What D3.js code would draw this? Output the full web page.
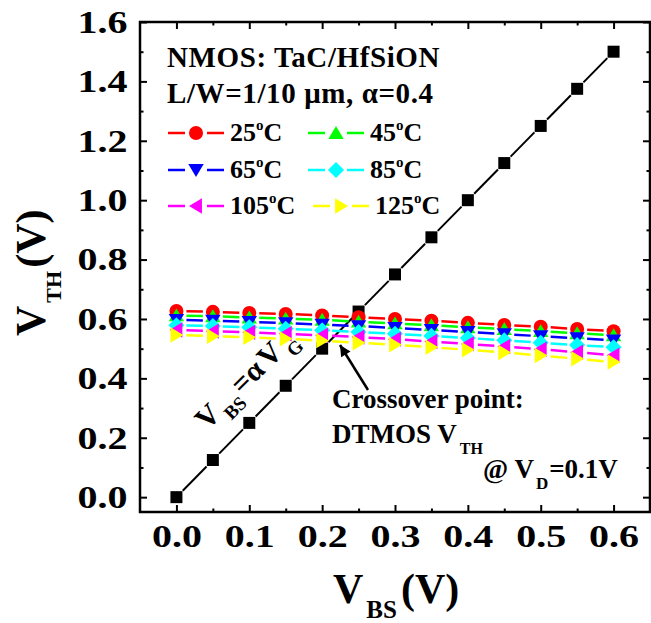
<!DOCTYPE html>
<html>
<head>
<meta charset="utf-8">
<script src="https://cdn.jsdelivr.net/npm/d3@7"></script>
<style>
  body { margin: 0; background: #fff; }
  svg text { font-family: "Liberation Serif", "Times New Roman", serif; font-weight: bold; fill: #000; }
</style>
</head>
<body>
<svg id="chart"></svg>
<script>
// ---- data ----
const vbs    = [0.00, 0.05, 0.10, 0.15, 0.20, 0.25, 0.30, 0.35, 0.40, 0.45, 0.50, 0.55, 0.60];
const vthDT  = [0.000, 0.125, 0.250, 0.375, 0.500, 0.625, 0.750, 0.875, 1.000, 1.125, 1.250, 1.375, 1.500]; // V_BS = alpha*V_G line
const vth25  = [0.627, 0.624, 0.620, 0.617, 0.612, 0.606, 0.600, 0.594, 0.587, 0.580, 0.574, 0.566, 0.559];
const vth45  = [0.612, 0.609, 0.605, 0.601, 0.597, 0.591, 0.585, 0.579, 0.572, 0.566, 0.559, 0.552, 0.545];
const vth65  = [0.597, 0.594, 0.590, 0.586, 0.581, 0.576, 0.570, 0.563, 0.556, 0.549, 0.542, 0.535, 0.528];
const vth85  = [0.579, 0.576, 0.572, 0.567, 0.562, 0.556, 0.550, 0.543, 0.536, 0.528, 0.520, 0.512, 0.505];
const vth105 = [0.563, 0.559, 0.555, 0.550, 0.545, 0.539, 0.532, 0.524, 0.516, 0.507, 0.498, 0.488, 0.478];
const vth125 = [0.546, 0.542, 0.538, 0.533, 0.527, 0.520, 0.513, 0.505, 0.496, 0.487, 0.477, 0.466, 0.455];
const temps  = ["25", "45", "65", "85", "105", "125"];

const xMajor = [0.0, 0.1, 0.2, 0.3, 0.4, 0.5, 0.6];
const xMinor = [0.05, 0.15, 0.25, 0.35, 0.45, 0.55];
const yMajor = [0.0, 0.2, 0.4, 0.6, 0.8, 1.0, 1.2, 1.4, 1.6];
const yMinor = [0.1, 0.3, 0.5, 0.7, 0.9, 1.1, 1.3, 1.5];

// styles
const colors = ["#ff0000", "#00ff00", "#0000ff", "#00ffff", "#ff00ff", "#ffff00"];
const shapes = ["circle", "up", "down", "diamond", "left", "right"];

const W = 651, H = 623;
const plot = {l: 140, r: 650, t: 22, b: 512};

const svg = d3.select("#chart").attr("width", W).attr("height", H);
svg.append("rect").attr("width", W).attr("height", H).attr("fill", "#fff");

const x = d3.scaleLinear().domain([-0.05, 0.65]).range([plot.l, plot.r]);
const y = d3.scaleLinear().domain([-0.05, 1.6]).range([plot.b, plot.t]);

function shapePath(type, s) {
  const h = s / 2;
  switch (type) {
    case "circle": return d3.symbol(d3.symbolCircle, Math.PI * h * h)();
    case "square": return `M${-h},${-h}H${h}V${h}H${-h}Z`;
    case "up": return `M0,${-h}L${h * 1.1},${h * 0.85}L${-h * 1.1},${h * 0.85}Z`;
    case "down": return `M0,${h}L${h * 1.1},${-h * 0.85}L${-h * 1.1},${-h * 0.85}Z`;
    case "left": return `M${-h},0L${h * 0.85},${-h * 1.1}L${h * 0.85},${h * 1.1}Z`;
    case "right": return `M${h},0L${-h * 0.85},${-h * 1.1}L${-h * 0.85},${h * 1.1}Z`;
    case "diamond": return `M0,${-h * 1.15}L${h * 1.15},0L0,${h * 1.15}L${-h * 1.15},0Z`;
  }
}

// line segments with a gap near each symbol (Origin style)
function gapSegments(pts, gap) {
  const segs = [];
  for (let i = 0; i < pts.length - 1; i++) {
    const [x1, y1] = pts[i], [x2, y2] = pts[i + 1];
    const dx = x2 - x1, dy = y2 - y1, len = Math.hypot(dx, dy);
    if (len <= 2 * gap) continue;
    const ux = dx / len, uy = dy / len;
    segs.push([x1 + ux * gap, y1 + uy * gap, x2 - ux * gap, y2 - uy * gap]);
  }
  return segs;
}

function drawSeries(g, vals, color, shape, size, gap, lw) {
  const pts = vbs.map((v, i) => [x(v), y(vals[i])]);
  g.selectAll(null).data(gapSegments(pts, gap)).enter().append("line")
    .attr("x1", d => d[0]).attr("y1", d => d[1])
    .attr("x2", d => d[2]).attr("y2", d => d[3])
    .attr("stroke", color).attr("stroke-width", lw);
  g.selectAll(null).data(pts).enter().append("path")
    .attr("transform", d => `translate(${d[0]},${d[1]})`)
    .attr("d", shapePath(shape, size))
    .attr("fill", color);
}

// ---- axes ----
const fmt = d3.format(".1f");
const axB = svg.append("g").attr("transform", `translate(0,${plot.b})`)
  .call(d3.axisBottom(x).tickValues(xMajor).tickSizeInner(-7).tickSizeOuter(0).tickPadding(12).tickFormat(fmt));
svg.append("g").attr("transform", `translate(0,${plot.b})`)
  .call(d3.axisBottom(x).tickValues(xMinor).tickSizeInner(-3.5).tickSizeOuter(0).tickFormat(""));
svg.append("g").attr("transform", `translate(0,${plot.t})`)
  .call(d3.axisTop(x).tickValues(xMajor).tickSizeInner(-7).tickSizeOuter(0).tickFormat(""));
svg.append("g").attr("transform", `translate(0,${plot.t})`)
  .call(d3.axisTop(x).tickValues(xMinor).tickSizeInner(-3.5).tickSizeOuter(0).tickFormat(""));

const axL = svg.append("g").attr("transform", `translate(${plot.l},0)`)
  .call(d3.axisLeft(y).tickValues(yMajor).tickSizeInner(-7).tickSizeOuter(0).tickPadding(10).tickFormat(fmt));
svg.append("g").attr("transform", `translate(${plot.l},0)`)
  .call(d3.axisLeft(y).tickValues(yMinor).tickSizeInner(-3.5).tickSizeOuter(0).tickFormat(""));
svg.append("g").attr("transform", `translate(${plot.r},0)`)
  .call(d3.axisRight(y).tickValues(yMajor).tickSizeInner(-7).tickSizeOuter(0).tickFormat(""));
svg.append("g").attr("transform", `translate(${plot.r},0)`)
  .call(d3.axisRight(y).tickValues(yMinor).tickSizeInner(-3.5).tickSizeOuter(0).tickFormat(""));

svg.selectAll(".domain").remove();
svg.selectAll(".tick line").attr("stroke", "#000").attr("stroke-width", 2);
[axB, axL].forEach(a => a.selectAll("text")
  .attr("font-size", 32).attr("font-family", null)
  .attr("transform", "scale(1.25,1)"));

svg.append("rect")
  .attr("x", plot.l).attr("y", plot.t)
  .attr("width", plot.r - plot.l).attr("height", plot.b - plot.t)
  .attr("fill", "none").attr("stroke", "#000").attr("stroke-width", 2.5);

// ---- data ----
const series = [vth25, vth45, vth65, vth85, vth105, vth125];
const gData = svg.append("g");
drawSeries(gData.append("g"), vthDT, "#000", "square", 12, 9, 2);
series.forEach((vals, i) => drawSeries(gData.append("g"), vals, colors[i], shapes[i], 14, 10, 2.5));

// ---- axis titles ----
const xt = svg.append("text").attr("x", 333).attr("y", 603).attr("font-size", 42);
xt.append("tspan").text("V");
xt.append("tspan").attr("font-size", 25).attr("dx", 3).attr("dy", 15).text("BS");
xt.append("tspan").attr("dx", 4).attr("dy", -15).text("(V)");

const yt = svg.append("text").attr("transform", "translate(45,336) rotate(-90)").attr("font-size", 42);
yt.append("tspan").text("V");
yt.append("tspan").attr("font-size", 22).attr("dx", 3).attr("dy", 16).text("TH");
yt.append("tspan").attr("dx", 3).attr("dy", -16).text("(V)");

// ---- header text ----
svg.append("text").attr("x", 167).attr("y", 67).attr("font-size", 29).attr("letter-spacing", 0.6).text("NMOS: TaC/HfSiON");
svg.append("text").attr("x", 167).attr("y", 103).attr("font-size", 29).attr("letter-spacing", 0.6).text("L/W=1/10 \u03bcm, \u03b1=0.4");

// ---- legend ----
const legRowY = [133, 170, 206];
const legColX = [168, 308];
temps.forEach((t, i) => {
  const col = i % 2, row = Math.floor(i / 2);
  const lx = legColX[col] + (i === 5 ? 5 : 0), ly = legRowY[row];
  const g = svg.append("g");
  g.append("line").attr("x1", lx).attr("x2", lx + 17).attr("y1", ly).attr("y2", ly)
    .attr("stroke", colors[i]).attr("stroke-width", 2.5);
  g.append("line").attr("x1", lx + 39).attr("x2", lx + 56).attr("y1", ly).attr("y2", ly)
    .attr("stroke", colors[i]).attr("stroke-width", 2.5);
  g.append("path").attr("transform", `translate(${lx + 28},${ly})`)
    .attr("d", shapePath(shapes[i], 14)).attr("fill", colors[i]);
  const tx = g.append("text").attr("x", lx + 62).attr("y", ly + 8).attr("font-size", 26);
  tx.append("tspan").text(t);
  tx.append("tspan").attr("font-size", 15).attr("dy", -11).text("o");
  tx.append("tspan").attr("dy", 11).text("C");
});

// ---- annotations ----
const ann = svg.append("text").attr("transform", "translate(207,431) rotate(-45)").attr("font-size", 30);
ann.append("tspan").text("V");
ann.append("tspan").attr("font-size", 19).attr("dx", 3).attr("dy", 10).text("BS");
ann.append("tspan").attr("dx", 2).attr("dy", -10).text("=\u03b1");
ann.append("tspan").attr("dx", 4).text("V");
ann.append("tspan").attr("font-size", 19).attr("dx", 4).attr("dy", 10).text("G");

svg.append("defs").append("marker")
  .attr("id", "arrow").attr("viewBox", "0 0 10 10")
  .attr("refX", 10).attr("refY", 5)
  .attr("markerWidth", 16).attr("markerHeight", 11)
  .attr("markerUnits", "userSpaceOnUse").attr("orient", "auto")
  .append("path").attr("d", "M0,0L10,5L0,10Z").attr("fill", "#000");
svg.append("line").attr("x1", 368).attr("y1", 390).attr("x2", 340).attr("y2", 345)
  .attr("stroke", "#000").attr("stroke-width", 2.5).attr("marker-end", "url(#arrow)");

svg.append("text").attr("x", 332).attr("y", 408).attr("font-size", 27).text("Crossover point:");
const dt = svg.append("text").attr("x", 332).attr("y", 443).attr("font-size", 27);
dt.append("tspan").text("DTMOS V");
dt.append("tspan").attr("font-size", 16).attr("dx", 3).attr("dy", 11).text("TH");
const vd = svg.append("text").attr("x", 483).attr("y", 478).attr("font-size", 27);
vd.append("tspan").text("@ V");
vd.append("tspan").attr("font-size", 17).attr("dx", 2).attr("dy", 11).text("D");
vd.append("tspan").attr("dx", 1).attr("dy", -11).text("=0.1V");
</script>
</body>
</html>
